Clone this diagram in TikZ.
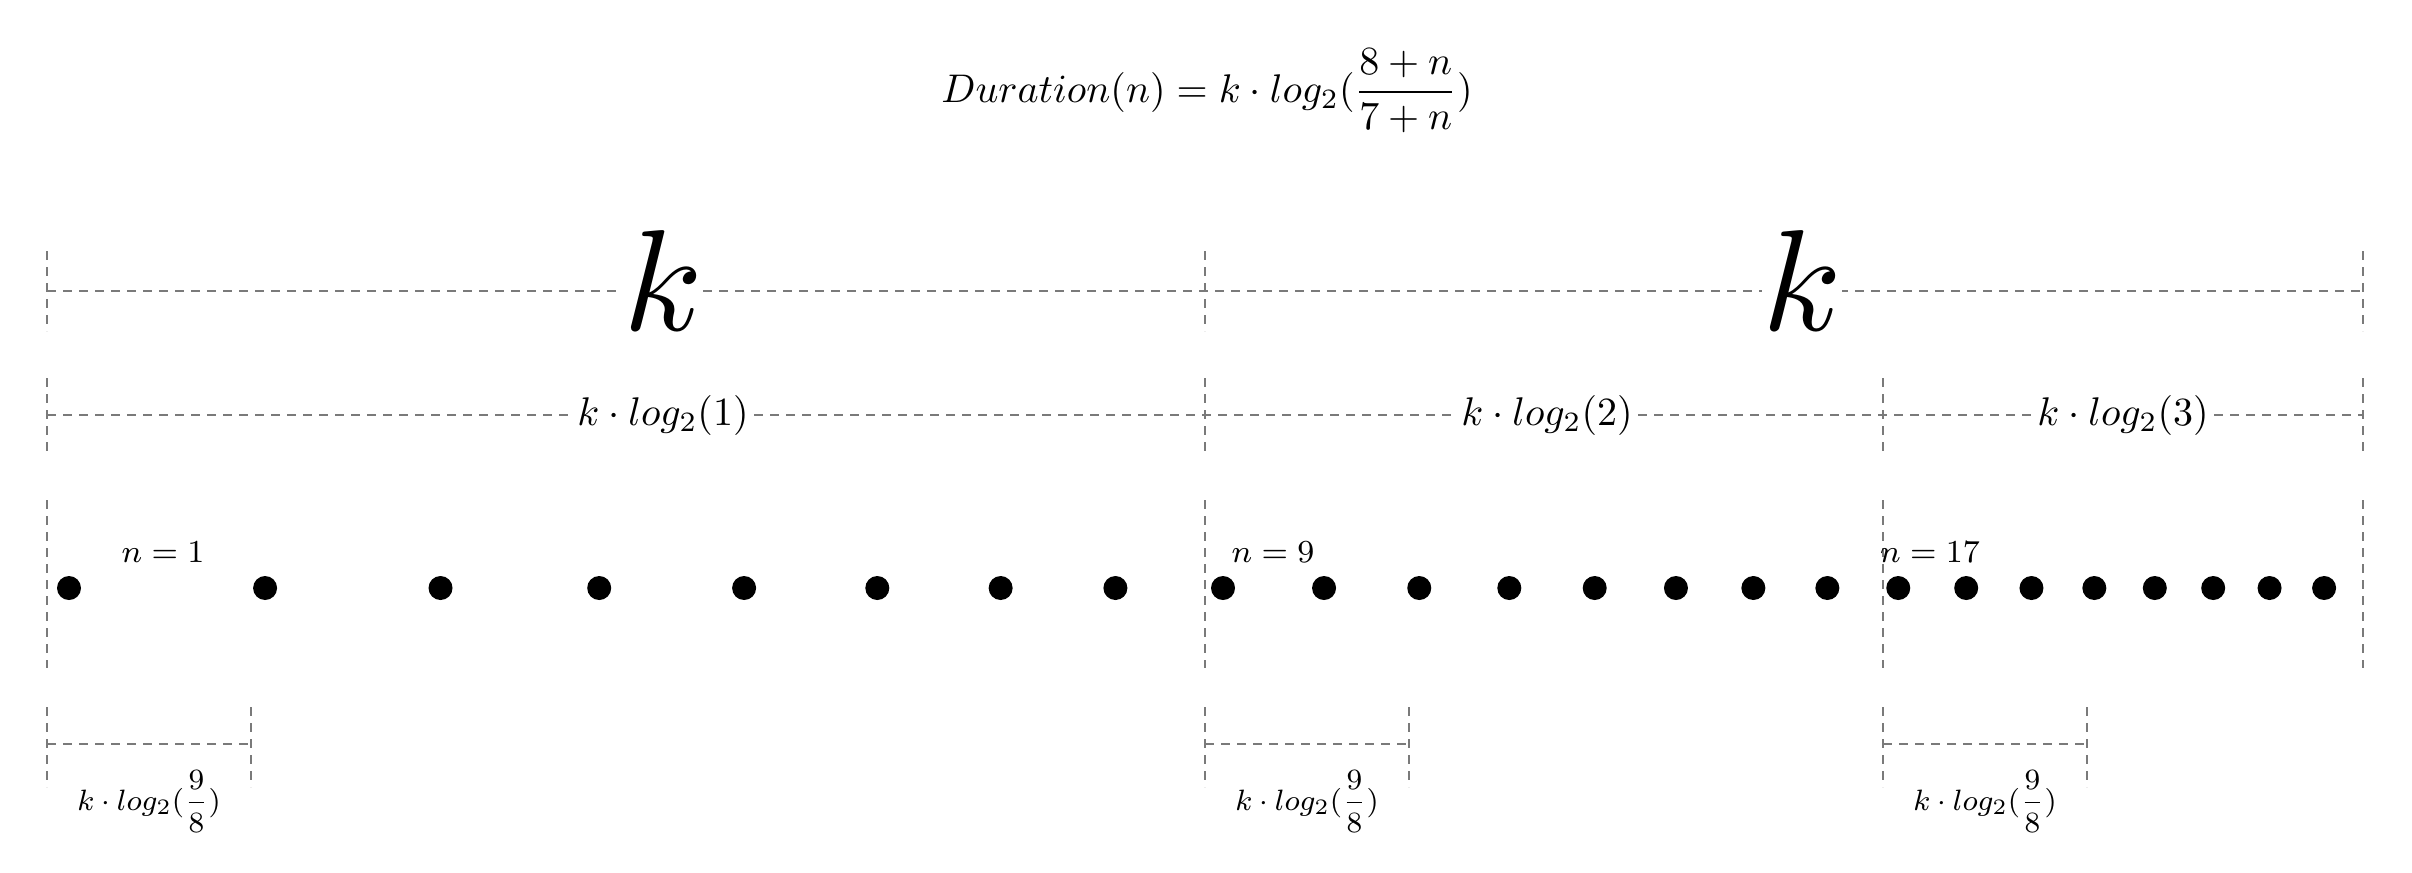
\documentclass[tikz,border=0pt]{standalone}
\begin{document}
\begin{tikzpicture}[x=0.25pt,y=-0.25pt,
  guide/.style={draw=black!52, line width=0.5pt, dash pattern=on 2.2pt off 1.8pt},
  dotc/.style={circle, fill=black, inner sep=0pt, minimum size=6pt},
  bigk/.style={anchor=base, fill=white, inner sep=0pt, scale=3.6},
  lbl/.style={inner sep=1.2pt, font=\normalsize},
  nlbl/.style={anchor=base, inner sep=0pt, font=\footnotesize},
  blbl/.style={anchor=base, inner sep=0pt, font=\footnotesize, scale=0.92}]
\useasboundingbox (0,0) rectangle (2412,872);

% formula
\node[anchor=base, inner sep=0pt] (formula) at (1207,102)
  {$\displaystyle Duration(n) = k \cdot log_2(\frac{8+n}{7+n})$};

% ---- top row: k | k
\coordinate (ta0) at (47,251);   \coordinate (tb0) at (47,331);
\coordinate (ta1) at (1205,251); \coordinate (tb1) at (1205,331);
\coordinate (ta2) at (2363,251); \coordinate (tb2) at (2363,331);
\draw[guide] (ta0) -- (tb0);
\draw[guide] (ta1) -- (tb1);
\draw[guide] (ta2) -- (tb2);
\coordinate (t0) at (47,291);
\coordinate (t2) at (2363,291);
\draw[guide] (t0) -- (t2);
\node[bigk] (k1) at (663,330) {$k$};
\node[bigk] (k2) at (1802,330) {$k$};

% ---- middle row
\coordinate (ma0) at (47,378);   \coordinate (mb0) at (47,454);
\coordinate (ma1) at (1205,378); \coordinate (mb1) at (1205,454);
\coordinate (ma2) at (1883,378); \coordinate (mb2) at (1883,454);
\coordinate (ma3) at (2363,378); \coordinate (mb3) at (2363,454);
\foreach \i in {0,1,2,3} {\draw[guide] (ma\i) -- (mb\i);}
\coordinate (m0) at (47,415);
\coordinate (m1) at (1205,415);
\coordinate (m2) at (1883,415);
\coordinate (m3) at (2363,415);
\node[lbl] (lg1) at (663,415) {$k \cdot log_2(1)$};
\node[lbl] (lg2) at (1547,415) {$k \cdot log_2(2)$};
\node[lbl] (lg3) at (2123,415) {$k \cdot log_2(3)$};
\draw[guide] (m0) -- (lg1) -- (m1) -- (lg2) -- (m2) -- (lg3) -- (m3);

% ---- dot row
\coordinate (da0) at (47,500);   \coordinate (db0) at (47,668);
\coordinate (da1) at (1205,500); \coordinate (db1) at (1205,668);
\coordinate (da2) at (1883,500); \coordinate (db2) at (1883,668);
\coordinate (da3) at (2363,500); \coordinate (db3) at (2363,668);
\foreach \i in {0,1,2,3} {\draw[guide] (da\i) -- (db\i);}
\foreach \n in {1,...,24} {
  \pgfmathsetmacro\dx{69+1154*ln((7+\n)/8)/ln(2)}
  \node[dotc] (d\n) at (\dx,588) {};
}
\node[nlbl] (n1) at (163,562) {$n=1$};
\node[nlbl] (n9) at (1273,562) {$n=9$};
\node[nlbl] (n17) at (1930,562) {$n=17$};

% ---- bottom brackets
\foreach \s/\j in {47/1,1205/2,1883/3} {
  \coordinate (ba\j) at (\s,707);
  \coordinate (bb\j) at (\s,787);
  \coordinate (bc\j) at (\s+204,707);
  \coordinate (bd\j) at (\s+204,787);
  \coordinate (bl\j) at (\s,744);
  \coordinate (br\j) at (\s+204,744);
  \draw[guide] (ba\j) -- (bb\j);
  \draw[guide] (bc\j) -- (bd\j);
  \draw[guide] (bl\j) -- (br\j);
  \node[blbl] (bt\j) at (\s+102,810) {$k \cdot log_2(\displaystyle\frac{9}{8})$};
}
\end{tikzpicture}
\end{document}
